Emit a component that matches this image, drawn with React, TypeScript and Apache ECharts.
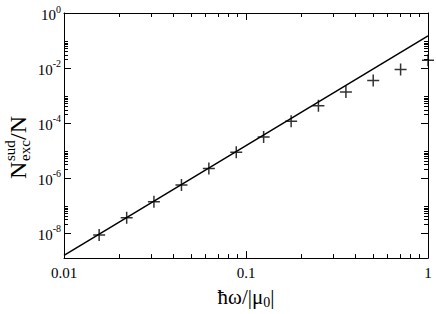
import React, { useEffect, useRef } from 'react';
import * as echarts from 'echarts';

// hbar*omega/|mu0|
const omega = [0.0156, 0.0221, 0.0312, 0.0442, 0.0625, 0.0884, 0.125, 0.177, 0.25, 0.354, 0.5, 0.707, 1.0];
// N_exc^sud / N (crosses)
const nExc = [8.3e-9, 3.5e-8, 1.35e-7, 5.5e-7, 2.2e-6, 8.6e-6, 3.1e-5, 1.15e-4, 4.2e-4, 1.33e-3, 3.5e-3, 8.7e-3, 1.9e-2];
// straight line (power law)
const lineX = [0.01, 1];
const lineY = [1.5e-9, 0.148];

const xMajor = [0.01, 0.1, 1];
const xMinor = [0.02, 0.03, 0.04, 0.05, 0.06, 0.07, 0.08, 0.09, 0.2, 0.3, 0.4, 0.5, 0.6, 0.7, 0.8, 0.9];
const yMajor = [1e-8, 1e-6, 1e-4, 1e-2, 1];
const yMinor = [
  2e-8, 3e-8, 4e-8, 5e-8, 6e-8, 7e-8, 8e-8, 9e-8,
  2e-6, 3e-6, 4e-6, 5e-6, 6e-6, 7e-6, 8e-6, 9e-6,
  2e-4, 3e-4, 4e-4, 5e-4, 6e-4, 7e-4, 8e-4, 9e-4,
  2e-2, 3e-2, 4e-2, 5e-2, 6e-2, 7e-2, 8e-2, 9e-2,
];
const xMin = 0.01;
const xMax = 1;
const yMin = 1.2e-9;
const yMax = 1;

const FONT = "'Liberation Serif', 'DejaVu Serif', serif";

export default function App() {
  const ref = useRef<HTMLDivElement>(null);
  useEffect(() => {
    if (!ref.current) return;
    const chart = echarts.init(ref.current, undefined, { renderer: 'svg' });
    const lineStyle = { color: '#000', width: 1 };
    const mkX = (pos: string, ticks: number[], len: number, showLine: boolean, labels: boolean, name?: any) => ({
      type: 'log',
      logBase: 10,
      min: xMin,
      max: xMax,
      position: pos,
      gridIndex: 0,
      axisLine: { show: showLine, lineStyle },
      axisTick: { show: true, inside: true, length: len, lineStyle, customValues: ticks },
      axisLabel: labels
        ? {
            show: true,
            customValues: ticks,
            formatter: (v: number) => '{n|' + String(v) + '}',
            fontFamily: FONT,
            fontSize: 15,
            color: '#000',
            margin: 7,
            rich: { n: { fontFamily: FONT, fontSize: 15, color: '#000' } },
          }
        : { show: false },
      splitLine: { show: false },
      minorTick: { show: false },
      ...(name || {}),
    });
    const mkY = (pos: string, ticks: number[], len: number, showLine: boolean, labels: boolean) => ({
      type: 'log',
      logBase: 10,
      min: yMin,
      max: yMax,
      position: pos,
      gridIndex: 0,
      axisLine: { show: showLine, lineStyle },
      axisTick: { show: true, inside: true, length: len, lineStyle, customValues: ticks },
      axisLabel: labels
        ? {
            show: true,
            customValues: ticks,
            formatter: (v: number) => '{b|10}{sup|' + Math.round(Math.log10(v)) + '}',
            fontFamily: FONT,
            fontSize: 15,
            lineHeight: 22,
            padding: [4, 0, 0, 0],
            color: '#000',
            margin: 3,
            rich: {
              b: { fontFamily: FONT, fontSize: 15, lineHeight: 22, color: '#000' },
              sup: { fontFamily: FONT, fontSize: 10, lineHeight: 10, verticalAlign: 'top', color: '#000' },
            },
          }
        : { show: false },
      splitLine: { show: false },
      minorTick: { show: false },
    });

    chart.setOption({
      animation: false,
      backgroundColor: '#fff',
      textStyle: { fontFamily: FONT },
      grid: { left: 64, right: 8, top: 10, bottom: 46, containLabel: false },
      xAxis: [
        mkX('bottom', xMajor, 7, true, true, {
          name: '{m|ħω/|μ}{sub|0}{m||}',
          nameLocation: 'middle',
          nameGap: 26,
          nameTextStyle: {
            fontFamily: FONT,
            fontSize: 21,
            lineHeight: 24,
            color: '#000',
            rich: {
              m: { fontFamily: FONT, fontSize: 21, lineHeight: 24, color: '#000' },
              sub: { fontFamily: FONT, fontSize: 14, lineHeight: 14, verticalAlign: 'bottom', color: '#000' },
            },
          },
        }),
        mkX('bottom', xMinor, 4, false, false),
        mkX('top', xMajor, 7, true, false),
        mkX('top', xMinor, 4, false, false),
      ],
      yAxis: [
        mkY('left', yMajor, 7, true, true),
        mkY('left', yMinor, 4, false, false),
        mkY('right', yMajor, 7, true, false),
        mkY('right', yMinor, 4, false, false),
      ],
      graphic: [
        {
          type: 'group',
          x: 18,
          y: 148,
          rotation: Math.PI / 2,
          children: [
            { type: 'text', x: -31, y: 0, style: { text: 'N', fontFamily: FONT, fontSize: 24, fill: '#000', align: 'left', verticalAlign: 'middle' } },
            { type: 'text', x: -13, y: -8, style: { text: 'sud', fontFamily: FONT, fontSize: 15, fill: '#000', align: 'left', verticalAlign: 'middle' } },
            { type: 'text', x: -13, y: 7, style: { text: 'exc', fontFamily: FONT, fontSize: 15, fill: '#000', align: 'left', verticalAlign: 'middle' } },
            { type: 'text', x: 8, y: 0, style: { text: '/N', fontFamily: FONT, fontSize: 24, fill: '#000', align: 'left', verticalAlign: 'middle' } },
          ],
        },
      ],
      series: [
        {
          type: 'line',
          xAxisIndex: 0,
          yAxisIndex: 0,
          data: lineX.map((x, i) => [x, lineY[i]]),
          showSymbol: false,
          symbol: 'none',
          lineStyle: { color: '#000', width: 1.5 },
          z: 2,
        },
        {
          type: 'scatter',
          xAxisIndex: 0,
          yAxisIndex: 0,
          data: omega.map((x, i) => [x, nExc[i]]),
          symbol: 'path://M6,0V12M0,6H12',
          symbolSize: 12,
          itemStyle: { color: 'rgba(0,0,0,0)', borderColor: '#000', borderWidth: 1.5 },
          clip: false,
          z: 3,
        },
      ],
    });
    return () => chart.dispose();
  }, []);
  return <div ref={ref} style={{ width: 436, height: 314, position: 'absolute', left: 0, top: 0 }} />;
}
